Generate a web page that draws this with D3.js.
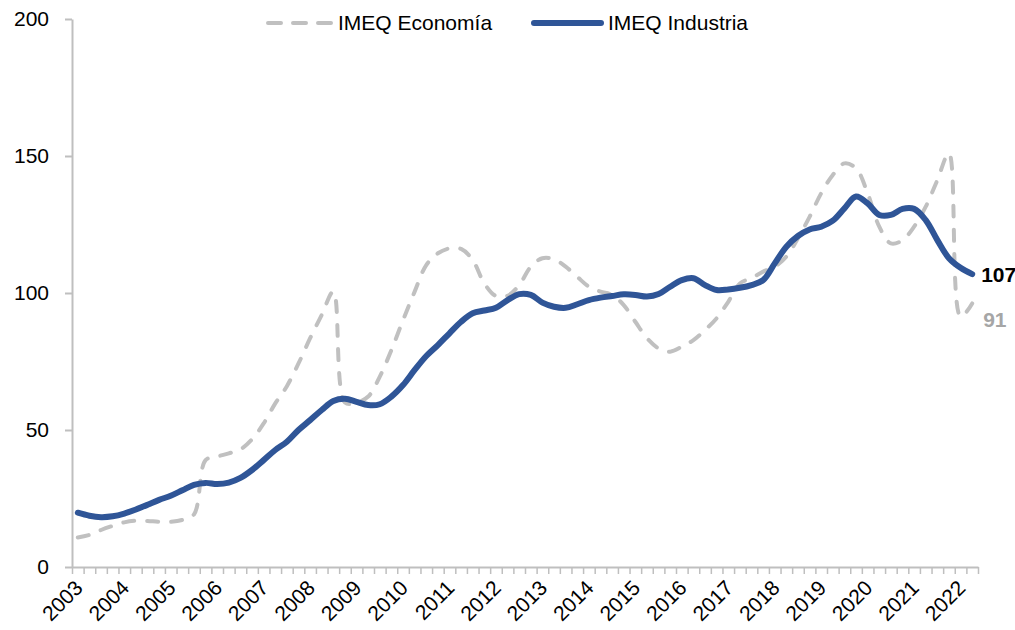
<!DOCTYPE html>
<html>
<head>
<meta charset="utf-8">
<script src="https://cdn.jsdelivr.net/npm/d3@7"></script>
<style>
  body { margin: 0; background: #fff; }
  svg { display: block; font-family: "Liberation Sans", Arial, sans-serif; }
</style>
</head>
<body>
<div id="chart"></div>
<script>
// Year labels on the x axis (one per year, on the first quarter)
const years = [2003, 2004, 2005, 2006, 2007, 2008, 2009, 2010, 2011, 2012,
               2013, 2014, 2015, 2016, 2017, 2018, 2019, 2020, 2021, 2022];

// Quarterly categories, 2003 Q1 .. 2022 Q2
const quarters = [];
years.forEach(y => [1, 2, 3, 4].forEach(q => quarters.push(`${y}-T${q}`)));
quarters.length = 78;

const yTicks = [0, 50, 100, 150, 200];

// IMEQ Economía (dashed grey)
const economia = [
  10.8, 11.7, 13.5, 15.0, 16.3, 16.9, 16.8, 16.5, 16.5, 17.2,
  19.2, 39.0, 40.3, 41.5, 42.9, 46.6, 52.4, 59.7, 66.0, 74.3,
  83.5, 92.0, 100.5, 60.0, 60.0, 62.2, 69.5, 79.2, 90.1, 100.5,
  110.2, 114.5, 116.3, 116.1, 112.0, 103.5, 98.9, 99.0, 102.9, 109.6,
  112.7, 112.3, 109.6, 105.9, 102.3, 100.5, 99.3, 95.6, 89.5, 83.5,
  79.8, 78.6, 80.4, 82.8, 86.5, 90.8, 96.8, 103.5, 105.4, 107.8,
  109.6, 113.3, 120.0, 127.8, 136.4, 143.1, 147.3, 145.5, 136.4, 124.2,
  118.1, 119.3, 124.2, 131.5, 141.2, 151.0, 91.4, 96.2
];

// IMEQ Industria (solid blue)
const industria = [
  19.8, 18.7, 18.2, 18.5, 19.5, 21.0, 22.7, 24.5, 26.0, 28.0,
  30.0, 30.7, 30.3, 30.8, 32.5, 35.4, 39.0, 42.7, 45.7, 50.0,
  53.6, 57.3, 60.6, 61.4, 60.3, 59.1, 59.4, 62.2, 66.4, 71.9,
  77.0, 81.0, 85.3, 89.5, 92.6, 93.6, 94.6, 97.4, 99.6, 99.3,
  96.5, 95.0, 94.6, 95.9, 97.4, 98.3, 98.9, 99.5, 99.3, 98.7,
  99.6, 102.3, 104.7, 105.4, 102.9, 101.1, 101.3, 101.9, 102.9, 104.7,
  110.8, 116.9, 120.8, 123.2, 124.2, 126.4, 130.9, 135.2, 132.7, 128.5,
  128.5, 130.7, 130.7, 126.6, 119.3, 112.7, 109.2, 106.9
];

const endLabels = ["107", "91"];

const width = 1015, height = 630;
const margin = { left: 72, right: 37, top: 19, bottom: 63 };

const svg = d3.select("#chart").append("svg")
  .attr("width", width)
  .attr("height", height);

const x = d3.scaleLinear()
  .domain([0, quarters.length])
  .range([margin.left, width - margin.right]);

const y = d3.scaleLinear()
  .domain([0, 200])
  .range([height - margin.bottom, margin.top]);

const axisColor = "#BFBFBF";

// y axis
const yAxis = svg.append("g")
  .attr("transform", `translate(${margin.left},0)`)
  .call(d3.axisLeft(y).tickValues(yTicks).tickSize(7).tickSizeOuter(0).tickPadding(16));
yAxis.select(".domain").attr("stroke", axisColor).attr("stroke-width", 2);
yAxis.selectAll(".tick line").attr("stroke", axisColor).attr("stroke-width", 2);
yAxis.selectAll(".tick text")
  .attr("fill", "#000")
  .style("font-size", "21px");

// x axis: a tick at every quarter boundary
const xAxis = svg.append("g")
  .attr("transform", `translate(0,${y(0)})`)
  .call(d3.axisBottom(x).tickValues(d3.range(0, quarters.length + 1)).tickFormat("").tickSize(7).tickSizeOuter(0));
xAxis.select(".domain").attr("stroke", axisColor).attr("stroke-width", 2);
xAxis.selectAll(".tick line").attr("stroke", axisColor).attr("stroke-width", 1.5);

// year labels, rotated
svg.append("g")
  .selectAll("text")
  .data(years)
  .join("text")
    .attr("transform", (d, i) => `translate(${x(i * 4 + 0.5) + 1},${y(0) + 17}) rotate(-45)`)
    .attr("text-anchor", "end")
    .attr("dy", "0.35em")
    .style("font-size", "21px")
    .attr("fill", "#000")
    .text(d => d);

const line = d3.line()
  .x((d, i) => x(i + 0.5))
  .y(d => y(d))
  .curve(d3.curveCatmullRom.alpha(0.5));

svg.append("path")
  .datum(economia)
  .attr("fill", "none")
  .attr("stroke", "#C0C0C0")
  .attr("stroke-width", 4)
  .attr("stroke-dasharray", "11,13")
  .attr("stroke-linecap", "round")
  .attr("d", line);

svg.append("path")
  .datum(industria)
  .attr("fill", "none")
  .attr("stroke", "#2F5597")
  .attr("stroke-width", 6)
  .attr("stroke-linejoin", "round")
  .attr("stroke-linecap", "round")
  .attr("d", line);

// end labels
const last = quarters.length - 1;
svg.append("text")
  .attr("x", x(last + 0.5) + 9)
  .attr("y", y(industria[last]) + 8)
  .style("font-size", "21px")
  .style("font-weight", "bold")
  .attr("fill", "#000")
  .text(endLabels[0]);
svg.append("text")
  .attr("x", x(last + 0.5) + 11)
  .attr("y", y(economia[last]) + 24)
  .style("font-size", "21px")
  .style("font-weight", "bold")
  .attr("fill", "#A6A6A6")
  .text(endLabels[1]);

// legend
const legend = svg.append("g").style("font-size", "21px");
legend.append("line")
  .attr("x1", 268).attr("x2", 331).attr("y1", 23).attr("y2", 23)
  .attr("stroke", "#C0C0C0").attr("stroke-width", 4)
  .attr("stroke-dasharray", "13,12").attr("stroke-linecap", "round");
legend.append("text").attr("x", 338).attr("y", 30).text("IMEQ Economía");
legend.append("line")
  .attr("x1", 534).attr("x2", 601).attr("y1", 23).attr("y2", 23)
  .attr("stroke", "#2F5597").attr("stroke-width", 6).attr("stroke-linecap", "round");
legend.append("text").attr("x", 608).attr("y", 30).text("IMEQ Industria");
</script>
</body>
</html>
